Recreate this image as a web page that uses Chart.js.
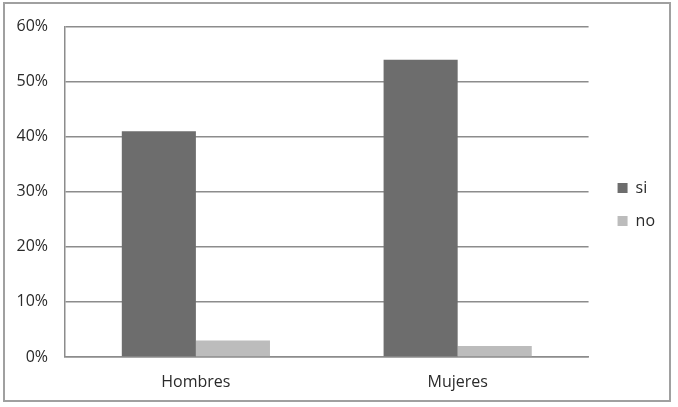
<!DOCTYPE html>
<html>
<head>
<meta charset="utf-8">
<script src="https://cdn.jsdelivr.net/npm/chart.js@4"></script>
<style>
  html, body { margin: 0; padding: 0; background: #fff; }
  #wrap { width: 678px; height: 407px; }
</style>
</head>
<body>
<div id="wrap"><canvas id="chart"></canvas></div>
<script>
var categories = ['Hombres', 'Mujeres'];
var siValues = [41, 54];
var noValues = [3, 2];
var yTicks = [0, 10, 20, 30, 40, 50, 60];

// outer frame around the whole chart, and nudge the legend into place
var framePlugin = {
    id: 'frame',
    afterLayout: function (chart) {
        var lg = chart.legend;
        lg.top -= 11; lg.bottom -= 11;
        lg.left += 12; lg.right += 12;
    },
    beforeDraw: function (chart) {
        var c = chart.ctx;
        c.save();
        c.fillStyle = '#fff';
        c.fillRect(0, 0, chart.width, chart.height);
        c.strokeStyle = '#a0a0a0';
        c.lineWidth = 2;
        c.strokeRect(4, 3, 666, 398);
        c.restore();
    }
};

document.addEventListener('DOMContentLoaded', function () {
    var ctx = document.getElementById('chart').getContext('2d');
    var chart = new Chart(ctx, {
        type: 'bar',
        data: {
            labels: categories,
            datasets: [{
                label: 'si',
                data: siValues,
                backgroundColor: '#6d6d6d'
            }, {
                label: 'no',
                data: noValues,
                backgroundColor: '#bcbcbc'
            }]
        },
        options: {
            responsive: true,
            maintainAspectRatio: false,
            animation: false,
            layout: {
                padding: { top: 24, right: 25, bottom: 0, left: 0 }
            },
            datasets: {
                bar: { barPercentage: 1, categoryPercentage: 0.566 }
            },
            plugins: {
                legend: {
                    position: 'right',
                    labels: {
                        boxWidth: 10,
                        boxHeight: 10,
                        padding: 17,
                        color: '#2a2a2a',
                        font: { family: 'Open Sans', size: 16 }
                    }
                },
                tooltip: { enabled: false }
            },
            scales: {
                x: {
                    grid: { display: false },
                    border: { display: true, color: '#8c8c8c', width: 1.5 },
                    ticks: {
                        color: '#2a2a2a',
                        padding: 8,
                        font: { family: 'Open Sans', size: 16 }
                    },
                    afterFit: function (axis) { axis.height = 50; }
                },
                y: {
                    min: 0,
                    max: 60,
                    afterBuildTicks: function (axis) {
                        axis.ticks = yTicks.map(function (v) { return { value: v }; });
                    },
                    grid: { color: '#8c8c8c', lineWidth: 1.5, drawTicks: false },
                    border: { display: true, color: '#8c8c8c', width: 1.5 },
                    ticks: {
                        color: '#2a2a2a',
                        padding: 17,
                        font: { family: 'Open Sans', size: 16 },
                        callback: function (v) { return v + '%'; }
                    },
                    afterFit: function (axis) { axis.width = 65; }
                }
            }
        },
        plugins: [framePlugin]
    });
});
</script>
</body>
</html>
